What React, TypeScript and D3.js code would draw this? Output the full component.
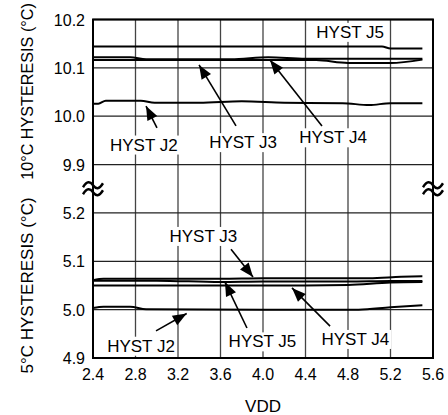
import React from "react";
import * as d3 from "d3";

// ---- data ----
const xTicks = [2.4, 2.8, 3.2, 3.6, 4.0, 4.4, 4.8, 5.2, 5.6];
const xTickLabels = ["2.4", "2.8", "3.2", "3.6", "4.0", "4.4", "4.8", "5.2", "5.6"];
const yTicks = [4.9, 5.0, 5.1, 5.2, 9.9, 10.0, 10.1, 10.2];
const yTickLabels = ["4.9", "5.0", "5.1", "5.2", "9.9", "10.0", "10.1", "10.2"];

// 10°C hysteresis (upper panel)
const j5UpX = [2.4, 3.2, 4.0, 4.8, 5.12, 5.2, 5.5];
const j5UpY = [10.144, 10.144, 10.144, 10.144, 10.144, 10.14, 10.14];
const j3UpX = [2.4, 2.75, 2.9, 3.7, 4.05, 4.4, 5.0, 5.5];
const j3UpY = [10.122, 10.122, 10.118, 10.118, 10.122, 10.119, 10.119, 10.119];
const j4UpX = [2.4, 3.2, 4.0, 4.5, 4.8, 5.2, 5.5];
const j4UpY = [10.1165, 10.1165, 10.1165, 10.116, 10.11, 10.11, 10.117];
const j2UpX = [2.4, 2.45, 2.52, 2.85, 2.98, 3.4, 3.8, 4.2, 4.75, 5.0, 5.2, 5.5];
const j2UpY = [10.026, 10.026, 10.032, 10.032, 10.028, 10.028, 10.031, 10.028, 10.027, 10.023, 10.027, 10.027];

// 5°C hysteresis (lower panel)
const j3LoX = [2.4, 2.5, 3.6, 4.0, 4.8, 5.0, 5.3, 5.5];
const j3LoY = [5.061, 5.064, 5.064, 5.065, 5.065, 5.065, 5.068, 5.069];
const j5LoX = [2.4, 3.0, 3.6, 4.0, 4.8, 5.2, 5.5];
const j5LoY = [5.06, 5.06, 5.057, 5.058, 5.058, 5.059, 5.059];
const j4LoX = [2.4, 3.2, 4.4, 4.8, 5.2, 5.5];
const j4LoY = [5.05, 5.05, 5.05, 5.051, 5.056, 5.057];
const j2LoX = [2.4, 2.5, 2.75, 2.9, 4.0, 4.9, 5.2, 5.5];
const j2LoY = [5.0035, 5.006, 5.006, 5.001, 5.0, 5.0, 5.005, 5.009];

const seriesX = [j5UpX, j3UpX, j4UpX, j2UpX, j3LoX, j5LoX, j4LoX, j2LoX];
const seriesY = [j5UpY, j3UpY, j4UpY, j2UpY, j3LoY, j5LoY, j4LoY, j2LoY];

// annotations (data coordinates): label centre/baseline, arrow tail, arrow tip
const annLabels = ["HYST J5", "HYST J2", "HYST J3", "HYST J4", "HYST J3", "HYST J2", "HYST J5", "HYST J4"];
const annLx = [4.82, 2.878, 3.812, 4.659, 3.438, 2.852, 3.995, 4.869];
const annLy = [10.162, 9.929, 9.934, 9.944, 5.14, 4.913, 4.922, 4.927];
const annFx = [NaN, 3.002, 3.746, 4.555, 3.699, 2.993, 3.849, 4.631];
const annFy = [NaN, 9.976, 9.98, 9.98, 5.125, 4.956, 4.962, 4.966];
const annTx = [NaN, 2.899, 3.398, 4.066, 3.906, 3.282, 3.642, 4.273];
const annTy = [NaN, 10.021, 10.106, 10.116, 5.0675, 4.992, 5.057, 5.045];

const W = 448;
const H = 415;
const L = 93, R = 433, T = 19.5, B = 358;
const FONT = "'Liberation Sans', Arial, Helvetica, sans-serif";

export default function App() {
  const x = d3.scaleLinear().domain([2.4, 5.6]).range([L, R]);
  const step = (B - T) / 7;
  const y = d3
    .scaleLinear()
    .domain([4.9, 5.2, 9.9, 10.2])
    .range([B, B - 3 * step, T + 3 * step, T]);

  const line = d3
    .line<[number, number]>()
    .x((d) => x(d[0]))
    .y((d) => y(d[1]))
    .curve(d3.curveMonotoneX);

  const breakY = (y(9.9) + y(5.2)) / 2;
  const wave = (cx: number, cy: number) =>
    `M ${cx - 10} ${cy + 2} C ${cx - 6} ${cy - 4.5}, ${cx - 3} ${cy - 4}, ${cx} ${cy} S ${cx + 6} ${cy + 4.5}, ${cx + 10} ${cy - 2}`;

  const arrowHead = (fx: number, fy: number, tx: number, ty: number) => {
    const ang = Math.atan2(ty - fy, tx - fx);
    const len = 14, half = 5.5;
    const bx = tx - len * Math.cos(ang), by = ty - len * Math.sin(ang);
    const px = -Math.sin(ang) * half, py = Math.cos(ang) * half;
    return `M ${tx} ${ty} L ${bx + px} ${by + py} L ${bx - px} ${by - py} Z`;
  };

  return (
    <svg
      width={W}
      height={H}
      style={{ position: "absolute", left: 0, top: 0, background: "#fff" }}
      fontFamily={FONT}
    >
      <rect x={0} y={0} width={W} height={H} fill="#fff" />
      {/* vertical grid */}
      {xTicks.slice(1, -1).map((t) => (
        <line key={"vx" + t} x1={x(t)} x2={x(t)} y1={T} y2={B} stroke="#444" strokeWidth={1.3} />
      ))}
      {/* horizontal grid */}
      {yTicks.map((t) => (
        <line key={"hy" + t} x1={L} x2={R} y1={y(t)} y2={y(t)} stroke="#222" strokeWidth={1.3} />
      ))}
      {/* data lines */}
      {seriesX.map((xs, i) => (
        <path
          key={"s" + i}
          d={line(xs.map((v, j) => [v, seriesY[i][j]] as [number, number])) || ""}
          fill="none"
          stroke="#000"
          strokeWidth={2}
        />
      ))}
      {/* annotations */}
      {annLabels.map((lab, i) => (
        <g key={"a" + i}>
          {!isNaN(annFx[i]) && (
            <>
              <line
                x1={x(annFx[i])}
                y1={y(annFy[i])}
                x2={x(annTx[i])}
                y2={y(annTy[i])}
                stroke="#000"
                strokeWidth={1.6}
              />
              <path d={arrowHead(x(annFx[i]), y(annFy[i]), x(annTx[i]), y(annTy[i]))} fill="#000" />
            </>
          )}
          <rect x={x(annLx[i]) - 36} y={y(annLy[i]) - 15} width={72} height={19} fill="#fff" />
          <text x={x(annLx[i])} y={y(annLy[i])} textAnchor="middle" fontSize={17} fill="#000">
            {lab}
          </text>
        </g>
      ))}
      {/* frame */}
      <rect x={L} y={T} width={R - L} height={B - T} fill="none" stroke="#000" strokeWidth={2} />
      {/* axis break marks */}
      {[L, R].map((cx) => (
        <g key={"br" + cx}>
          <path d={wave(cx, breakY - 3.5)} fill="none" stroke="#000" strokeWidth={2.4} />
          <path d={wave(cx, breakY + 3.5)} fill="none" stroke="#000" strokeWidth={2.4} />
        </g>
      ))}
      {/* y tick labels */}
      {yTicks.map((t, i) => (
        <text key={"yl" + t} x={85} y={y(t) + 6} textAnchor="end" fontSize={16} fill="#000">
          {yTickLabels[i]}
        </text>
      ))}
      {/* x tick labels */}
      {xTicks.map((t, i) => (
        <text key={"xl" + t} x={x(t)} y={380} textAnchor="middle" fontSize={16} fill="#000">
          {xTickLabels[i]}
        </text>
      ))}
      <text x={(L + R) / 2} y={411.5} textAnchor="middle" fontSize={17} fill="#000">
        VDD
      </text>
      {/* y axis titles */}
      <text
        transform={`translate(33, 91.5) rotate(-90)`}
        textAnchor="middle"
        fontSize={16.2}
        fill="#000"
      >
        10°C HYSTERESIS (°C)
      </text>
      <text
        transform={`translate(33, ${(y(5.2) + y(4.9)) / 2}) rotate(-90)`}
        textAnchor="middle"
        fontSize={17}
        fill="#000"
      >
        5°C HYSTERESIS (°C)
      </text>
    </svg>
  );
}
